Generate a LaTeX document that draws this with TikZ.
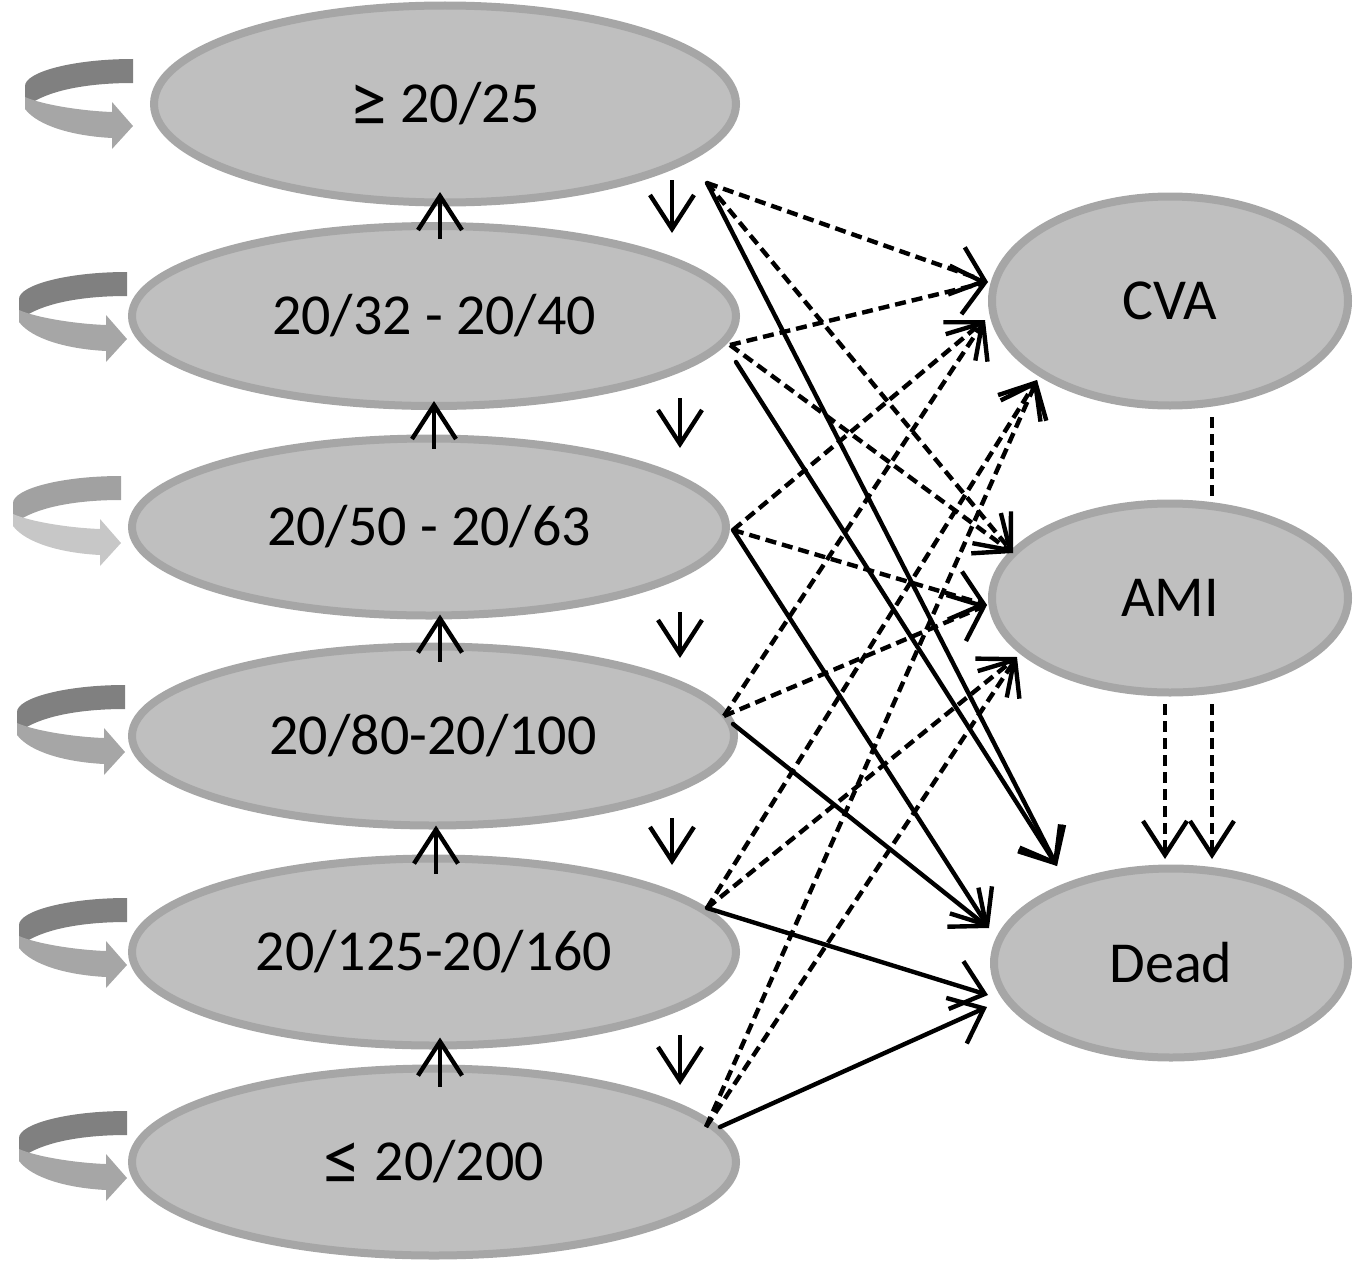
\documentclass[tikz,border=0pt]{standalone}
\usepackage{fontspec}
\setmainfont{Carlito}
\usetikzlibrary{shapes.geometric,arrows.meta,calc}
\definecolor{ring}{HTML}{A6A6A6}
\definecolor{fillg}{HTML}{BFBFBF}
\colorlet{bandA}{black!50}
\colorlet{bandB}{black!35}
\newcommand\bigrel[1]{\raisebox{-0.07em}{\scalebox{1.3}{#1}}}
\tikzset{
  lell/.style={ellipse, draw=ring, fill=fillg, line width=8pt, inner sep=0pt,
    font=\fontsize{58}{62}\selectfont},
  conn/.style={line width=4.4pt, line cap=round, -{Straight Barb[length=30pt,width=50pt]}},
  dconn/.style={conn, line cap=butt, dash pattern=on 11pt off 6pt},
  updown/.style={line width=4.4pt, -{Straight Barb[length=34pt,width=44pt]}},
  dupdown/.style={updown, dash pattern=on 11pt off 6pt},
  dline/.style={line width=4.4pt, dash pattern=on 11pt off 6pt},
  curlarrow/.pic={
    \fill[bandA] (0,-67) .. controls (-60,-67) and (-108,-54) .. (-108,-40)
      -- (-108,-18) -- (-100,-24) .. controls (-80,-36) and (-45,-43) .. (0,-43) -- cycle;
    \fill[bandB] (-108,-29) .. controls (-90,-21) and (-50,-15) .. (-21,-14)
      -- (-21,-24) -- (0,0) -- (-21,23) -- (-21,12)
      .. controls (-60,10) and (-95,0) .. (-108,-17) -- cycle;
  }
}
\begin{document}
\begin{tikzpicture}[x=1pt,y=-1pt]
\useasboundingbox (0,0) rectangle (1360,1263);

% left states
\node[lell, minimum width=582pt, minimum height=197pt] (e1) at (445,104) {\bigrel{≥} 20/25};
\node[lell, minimum width=604pt, minimum height=180pt] (e2) at (434,316) {20/32 - 20/40};
\node[lell, minimum width=594pt, minimum height=177pt] (e3) at (429,527) {20/50 - 20/63};
\node[lell, minimum width=602pt, minimum height=179pt] (e4) at (433,736) {20/80-20/100};
\node[lell, minimum width=604pt, minimum height=187pt] (e5) at (434,952) {20/125-20/160};
\node[lell, minimum width=604pt, minimum height=187pt] (e6) at (434,1162) {\bigrel{≤} 20/200};

% right states
\node[lell, minimum width=356pt, minimum height=209pt] (cva) at (1170,301) {CVA};
\node[lell, minimum width=356pt, minimum height=189pt] (ami) at (1170,598) {AMI};
\node[lell, minimum width=354pt, minimum height=189pt] (dead) at (1171,963) {Dead};

% self loops
\pic at (133,126) {curlarrow};
\pic at (127,339) {curlarrow};
\begin{scope}
  \colorlet{bandA}{black!37}
  \colorlet{bandB}{black!22}
  \pic at (121,543) {curlarrow};
\end{scope}
\pic at (125,752) {curlarrow};
\pic at (127,965) {curlarrow};
\pic at (127,1178) {curlarrow};

% improvement arrows (up)
\draw[updown] ($(e2.north)+(6,17)$) -- ($(e1.south)+(-5,-14.5)$);
\draw[updown] ($(e3.north)+(5,14)$) -- ($(e2.south)+(0,-9)$);
\draw[updown] ($(e4.north)+(7,19)$) -- ($(e3.south)+(11,-5)$);
\draw[updown] ($(e5.north)+(2,19)$) -- ($(e4.south)+(3,-4)$);
\draw[updown] ($(e6.north)+(6,22)$) -- ($(e5.south)+(6,-12)$);

% worsening arrows (down)
\coordinate (d1a) at (672,180);  \coordinate (d1b) at (672,233);
\coordinate (d2a) at (680,398);  \coordinate (d2b) at (680,448);
\coordinate (d3a) at (680,612);  \coordinate (d3b) at (680,658);
\coordinate (d4a) at (672,818);  \coordinate (d4b) at (672,865);
\coordinate (d5a) at (680,1035); \coordinate (d5b) at (680,1085);
\draw[updown] (d1a) -- (d1b);
\draw[updown] (d2a) -- (d2b);
\draw[updown] (d3a) -- (d3b);
\draw[updown] (d4a) -- (d4b);
\draw[updown] (d5a) -- (d5b);

% start points
\coordinate (s1) at ($(e1.center)+(262,79)$);
\coordinate (s2d) at ($(e2.center)+(296,29)$);
\coordinate (s2s) at ($(e2.center)+(302,46)$);
\coordinate (s3) at ($(e3.center)+(304,3)$);
\coordinate (s4d) at ($(e4.center)+(291,-20)$);
\coordinate (s4s) at ($(e4.center)+(300,-12)$);
\coordinate (s5) at ($(e5.center)+(273,-44)$);
\coordinate (s6d) at ($(e6.center)+(272,-35)$);
\coordinate (s6s) at ($(e6.center)+(286,-35)$);

% end points
\coordinate (cA) at ($(cva.center)+(-182,-19)$);
\coordinate (cB) at ($(cva.center)+(-185,19)$);
\coordinate (cC) at ($(cva.center)+(-133,79)$);
\coordinate (aA) at ($(ami.center)+(-157,-45)$);
\coordinate (aB) at ($(ami.center)+(-183,7)$);
\coordinate (aC) at ($(ami.center)+(-153,59)$);
\coordinate (dA) at ($(dead.center)+(-114,-97)$);
\coordinate (dB) at ($(dead.center)+(-182,-35)$);
\coordinate (dC1) at ($(dead.center)+(-183,32)$);
\coordinate (dC2) at ($(dead.center)+(-184,44)$);

% to CVA (dashed)
\draw[dconn] (s1) -- (cA);
\draw[dconn] (s2d) -- (cA);
\draw[dconn] (s3) -- (cB);
\draw[dconn] (s4d) -- (cB);
\draw[dconn] (s5) -- (cC);
\draw[dconn] (s6d) -- (cC);
% to AMI (dashed)
\draw[dconn] (s1) -- (aA);
\draw[dconn] (s2d) -- (aA);
\draw[dconn] (s3) -- (aB);
\draw[dconn] (s4d) -- (aB);
\draw[dconn] (s5) -- (aC);
\draw[dconn] (s6d) -- (aC);
% to Dead (solid)
\draw[conn] (s1) -- (dA);
\draw[conn] (s2s) -- (dA);
\draw[conn] (s3) -- (dB);
\draw[conn] (s4s) -- (dB);
\draw[conn] (s5) -- (dC1);
\draw[conn] (s6s) -- (dC2);

% between right states
\draw[dline] ($(cva.south)+(42,7.5)$) -- ($(ami.north)+(42,-1.5)$);
\draw[dupdown] ($(ami.south)+(-5,7.5)$) -- ($(dead.north)+(-6,-5.5)$);
\draw[dupdown] ($(ami.south)+(42,7.5)$) -- ($(dead.north)+(41,-5.5)$);
\end{tikzpicture}
\end{document}
